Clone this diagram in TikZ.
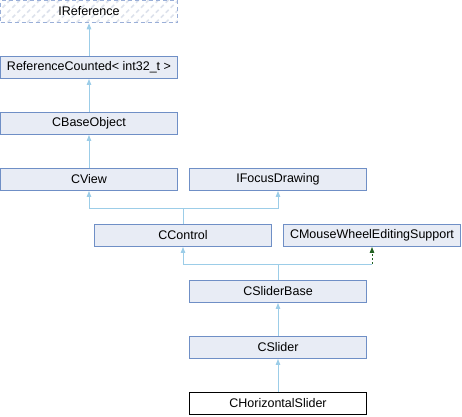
\documentclass[tikz,border=0pt]{standalone}
\usepackage{fontspec}
\setmainfont{Liberation Sans}
\usetikzlibrary{arrows.meta,patterns.meta}
\definecolor{boxfill}{HTML}{E8ECF5}
\definecolor{boxline}{HTML}{6F8FC6}
\definecolor{edgeblue}{HTML}{9CCDE8}
\definecolor{darkgreen}{HTML}{206020}
\definecolor{hatchline}{HTML}{DDE2EC}
\definecolor{dashline}{HTML}{9AAFD8}
\tikzset{
  cls/.style={draw=boxline, fill=boxfill, line width=0.9pt, minimum width=177pt,
    minimum height=22pt, inner sep=0pt, font=\fontsize{12.5}{14}\selectfont},
  leaf/.style={cls, draw=black, fill=white},
  iface/.style={cls, draw=dashline, dash pattern=on 4pt off 3pt,
    pattern={Lines[angle=45, distance=7pt, line width=1.6pt]}, pattern color=hatchline},
  inherit/.style={draw=edgeblue, line width=0.9pt, -{Triangle[length=6pt,width=4.5pt]}},
  line/.style={draw=edgeblue, line width=0.9pt},
  usesrel/.style={draw=darkgreen, line width=0.9pt, dash pattern=on 2pt off 2pt,
    -{Triangle[length=6pt,width=4.5pt]}}
}
\begin{document}
\begin{tikzpicture}[x=1pt,y=-1pt]
  \useasboundingbox (0,0) rectangle (462,416);
  % class boxes
  \node[iface] (iref) at (89,11.5) {IReference};
  \node[cls] (refcnt) at (89,67.5) {ReferenceCounted< int32\_t >};
  \node[cls] (baseobj) at (89,123.5) {CBaseObject};
  \node[cls] (view) at (89,179.5) {CView};
  \node[cls] (focus) at (278,179.5) {IFocusDrawing};
  \node[cls] (ctrl) at (183,235.5) {CControl};
  \node[cls] (wheel) at (372,235.5) {CMouseWheelEditingSupport};
  \node[cls] (sbase) at (278,291.5) {CSliderBase};
  \node[cls] (slider) at (278,347.5) {CSlider};
  \node[leaf] (hslider) at (278,403.5) {CHorizontalSlider};
  % junctions
  \coordinate (j1) at (183,208);
  \coordinate (j2) at (278,264);
  % straight inheritance
  \draw[inherit] (refcnt) -- (iref);
  \draw[inherit] (baseobj) -- (refcnt);
  \draw[inherit] (view) -- (baseobj);
  \draw[inherit] (slider) -- (sbase);
  \draw[inherit] (hslider) -- (slider);
  % merged inheritance
  \draw[line] (ctrl.north) -- (j1);
  \draw[inherit] (j1) -| (view.south);
  \draw[inherit] (j1) -| (focus.south);
  \draw[line] (sbase.north) -- (j2);
  \draw[inherit] (j2) -| (ctrl.south);
  \draw[line] (j2) -- (wheel.south |- j2);
  \draw[usesrel] (wheel.south |- j2) -- (wheel.south);
\end{tikzpicture}
\end{document}
